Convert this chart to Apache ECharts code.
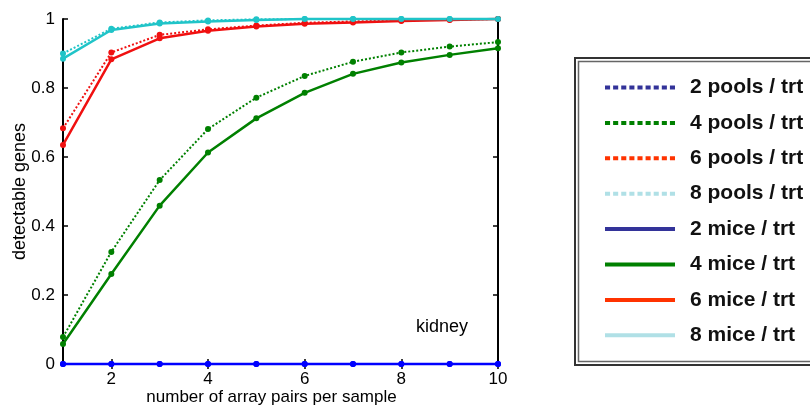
<!DOCTYPE html>
<html>
<head>
<meta charset="utf-8">
<script src="https://cdn.jsdelivr.net/npm/echarts@6/dist/echarts.min.js"></script>
<style>
  html, body { margin: 0; padding: 0; background: #fff; }
  #chart { width: 810px; height: 411px; }
</style>
</head>
<body>
<div id="chart"></div>
<script>
'use strict';

// array pairs per sample
var pairs = [1, 2, 3, 4, 5, 6, 7, 8, 9, 10];
var xTicks = [2, 4, 6, 8, 10];

var pools2 = [0, 0, 0, 0, 0, 0, 0, 0, 0, 0];
var pools4 = [0.078, 0.325, 0.533, 0.681, 0.772, 0.835, 0.876, 0.903, 0.920, 0.933];
var pools6 = [0.683, 0.903, 0.954, 0.970, 0.981, 0.989, 0.993, 0.996, 0.998, 1.0];
var pools8 = [0.900, 0.972, 0.990, 0.996, 0.999, 1.0, 1.0, 1.0, 1.0, 1.0];
var mice2 = [0, 0, 0, 0, 0, 0, 0, 0, 0, 0];
var mice4 = [0.058, 0.261, 0.459, 0.613, 0.712, 0.786, 0.841, 0.874, 0.896, 0.915];
var mice6 = [0.635, 0.883, 0.944, 0.966, 0.978, 0.986, 0.990, 0.994, 0.997, 1.0];
var mice8 = [0.885, 0.968, 0.987, 0.993, 0.997, 1.0, 1.0, 1.0, 1.0, 1.0];

var names = ['2 pools / trt', '4 pools / trt', '6 pools / trt', '8 pools / trt',
  '2 mice / trt', '4 mice / trt', '6 mice / trt', '8 mice / trt'];
var plotColors = ['#0000ff', '#008000', '#f01010', '#20c4c8'];
var legendColors = ['#333399', '#008000', '#ff3300', '#b0e0e6'];

var myChart = echarts.init(document.getElementById('chart'));

function pairUp(vals) {
  return vals.map(function (v, i) {
    return [pairs[i], v];
  });
}

function makeSeries(name, vals, color, dotted) {
  return {
    name: name,
    type: 'line',
    data: pairUp(vals),
    symbol: 'circle',
    symbolSize: 6,
    clip: false,
    itemStyle: { color: color },
    lineStyle: {
      color: color,
      width: dotted ? 2 : 2.5,
      type: dotted ? [2, 2] : 'solid'
    },
    emphasis: { disabled: true }
  };
}

// dotted legend sample, built from little squares
var dotPath = 'path://';
for (var i = 0; i < 9; i++) {
  dotPath += 'M' + (i * 8) + ',0h5v4h-5z';
}

var allVals = [pools2, pools4, pools6, pools8, mice2, mice4, mice6, mice8];
var series = allVals.map(function (vals, idx) {
  return makeSeries(names[idx], vals, plotColors[idx % 4], idx < 4);
});

var legendData = names.map(function (n, idx) {
  return {
    name: n,
    icon: idx < 4 ? dotPath : 'rect',
    itemStyle: { color: legendColors[idx % 4], borderWidth: 0 }
  };
});

var axisText = { color: '#000', fontSize: 17, fontFamily: 'Liberation Sans, Arial' };

var option = {
  animation: false,
  grid: { left: 63, top: 19, right: 312, bottom: 47 },
  xAxis: [{
    type: 'value',
    min: 1,
    max: 10,
    name: 'number of array pairs per sample',
    nameLocation: 'middle',
    nameGap: 25,
    nameMoveOverlap: false,
    nameTextStyle: { color: '#000', fontSize: 17, fontFamily: 'Liberation Sans, Arial', padding: [0, 18, 0, 0] },
    axisLine: { lineStyle: { color: '#000', width: 2 } },
    axisTick: { inside: true, length: 5, customValues: xTicks, lineStyle: { color: '#000', width: 1.5 } },
    axisLabel: Object.assign({ customValues: xTicks, margin: 7 }, axisText),
    splitLine: { show: false }
  }, {
    type: 'value',
    position: 'top',
    min: 1,
    max: 10,
    axisLine: { lineStyle: { color: '#000', width: 2 } },
    axisTick: { inside: true, length: 5, customValues: xTicks, lineStyle: { color: '#000', width: 1.5 } },
    axisLabel: { show: false },
    splitLine: { show: false }
  }],
  yAxis: [{
    type: 'value',
    min: 0,
    max: 1,
    interval: 0.2,
    name: 'detectable genes',
    nameLocation: 'middle',
    nameGap: 34,
    nameMoveOverlap: false,
    nameTextStyle: { color: '#000', fontSize: 18, fontFamily: 'Liberation Sans, Arial' },
    axisLine: { show: true, lineStyle: { color: '#000', width: 2 } },
    axisTick: { show: true, inside: true, length: 5, lineStyle: { color: '#000', width: 1.5 } },
    axisLabel: Object.assign({ margin: 8 }, axisText),
    splitLine: { show: false }
  }, {
    type: 'value',
    position: 'right',
    min: 0,
    max: 1,
    interval: 0.2,
    axisLine: { show: true, lineStyle: { color: '#000', width: 2 } },
    axisTick: { show: true, inside: true, length: 5, lineStyle: { color: '#000', width: 1.5 } },
    axisLabel: { show: false },
    splitLine: { show: false }
  }],
  legend: {
    orient: 'vertical',
    left: 600,
    top: 72,
    itemWidth: 70,
    itemHeight: 4,
    itemGap: 14.4,
    symbolKeepAspect: false,
    selectedMode: false,
    data: legendData,
    textStyle: {
      color: '#111',
      fontSize: 21,
      fontWeight: 'bold',
      fontFamily: 'Liberation Sans, Arial',
      padding: [0, 0, 0, 10]
    }
  },
  graphic: [{
    type: 'rect',
    shape: { x: 575, y: 58, width: 240, height: 307 },
    style: { fill: 'none', stroke: '#333', lineWidth: 2 }
  }, {
    type: 'rect',
    shape: { x: 578.5, y: 61.5, width: 240, height: 300 },
    style: { fill: 'none', stroke: '#666', lineWidth: 1.5 }
  }, {
    type: 'text',
    left: 416,
    top: 318,
    style: { text: 'kidney', fill: '#000', fontSize: 18, fontFamily: 'Liberation Sans, Arial' }
  }],
  series: series
};

myChart.setOption(option);
</script>
</body>
</html>
